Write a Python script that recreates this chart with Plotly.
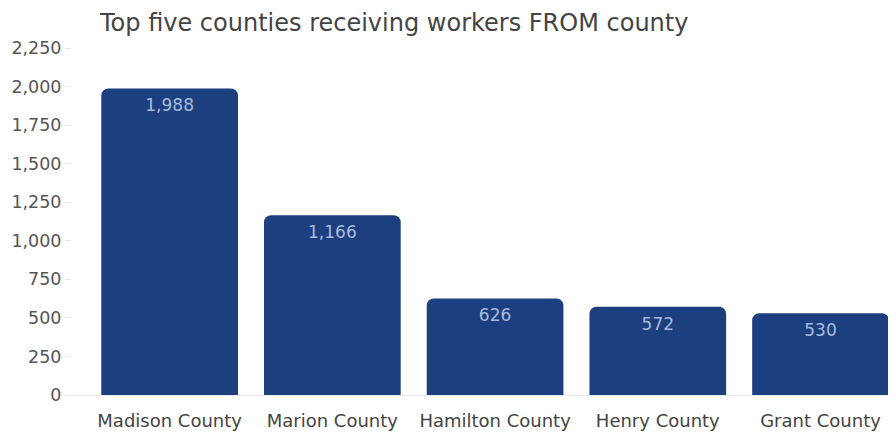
import plotly.graph_objects as go

categories = ["Madison County", "Marion County", "Hamilton County", "Henry County", "Grant County"]
workers = [1988, 1166, 626, 572, 530]
y_ticks = [0, 250, 500, 750, 1000, 1250, 1500, 1750, 2000, 2250]

fig = go.Figure(go.Bar(
    x=categories,
    y=workers,
    marker=dict(color="#1c3f80", cornerradius=7, line=dict(width=0)),
    texttemplate="%{y:,}",
    textposition="inside",
    insidetextanchor="end",
    textfont=dict(family="DejaVu Sans", size=17, color="#a9bbdc"),
    hoverinfo="x+y",
))

fig.update_layout(
    width=896, height=433,
    margin=dict(l=64, r=7, t=40, b=46),
    paper_bgcolor="white", plot_bgcolor="white",
    bargap=0.16,
    showlegend=False,
    title=dict(text="Top five counties receiving workers FROM county",
               x=0.1027, xanchor="left", y=0.986, yanchor="top",
               font=dict(family="DejaVu Sans", size=24, color="#444444")),
    font=dict(family="DejaVu Sans", size=17, color="#555555"),
)
fig.update_yaxes(range=[0, 2250], tickvals=y_ticks, tickformat=",",
                 showgrid=False, zeroline=False, showline=False, automargin=False,
                 ticks="outside", ticklen=6, tickcolor="#e8e8e8",
                 tickfont=dict(family="DejaVu Sans", size=17.5, color="#555555"))
fig.update_xaxes(range=[-0.6, 4.47], showgrid=False, showline=True, linecolor="#eaeaea",
                 ticks="", ticklabelstandoff=9, automargin=False,
                 tickfont=dict(family="DejaVu Sans", size=18, color="#444444"))

fig.write_html("out.html")
